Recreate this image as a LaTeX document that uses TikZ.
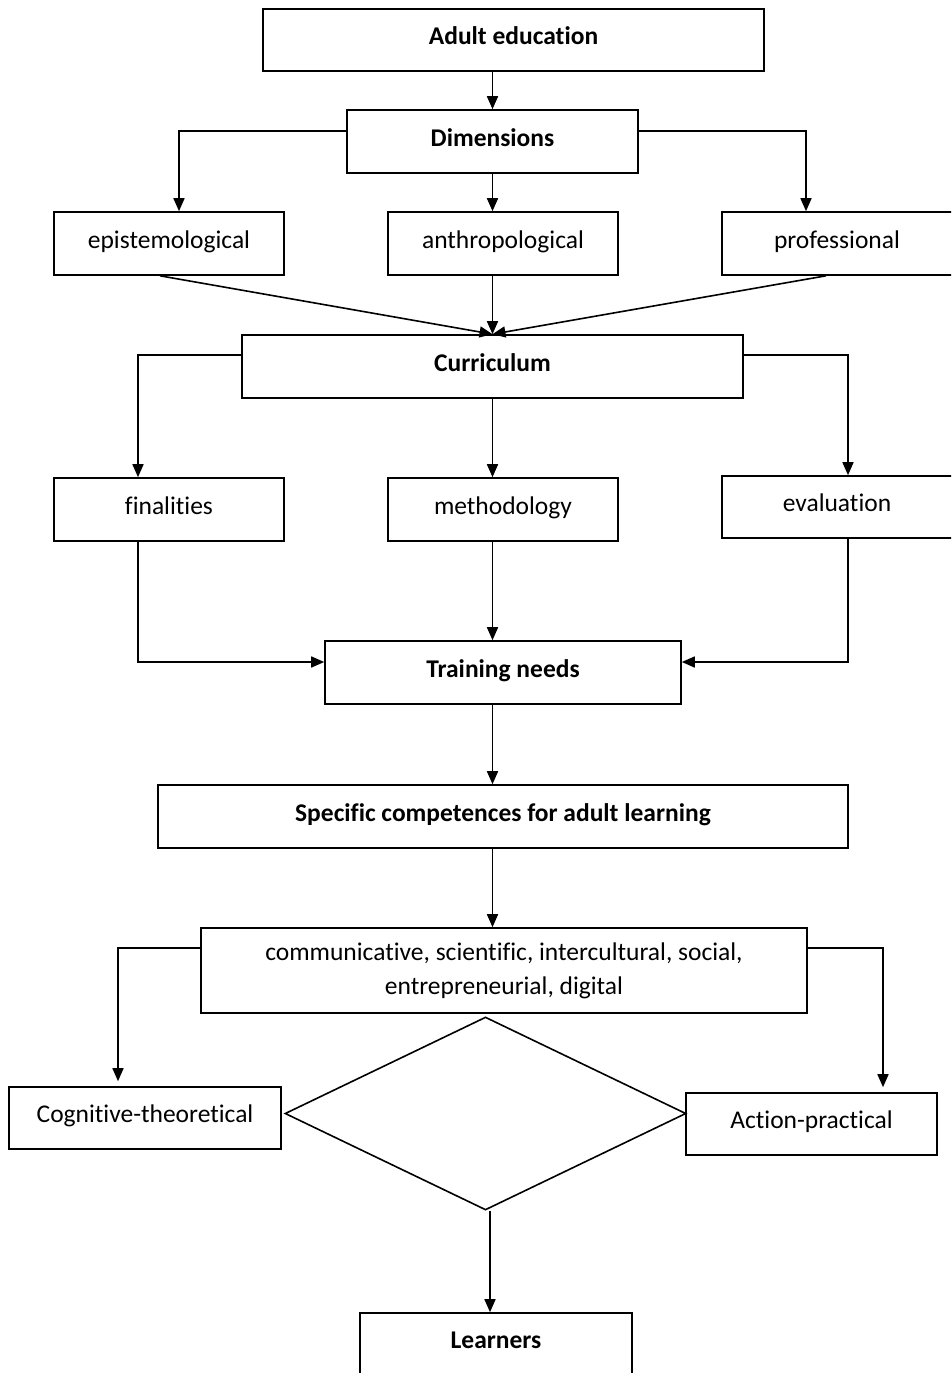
\documentclass[tikz,border=0pt]{standalone}
\usepackage{fontspec}
\setmainfont{Carlito}[Ligatures={NoCommon},RawFeature={-liga;-clig}]
\usetikzlibrary{arrows.meta,shapes.geometric,calc}
\tikzset{
  box/.style={draw, line width=1.6pt, minimum height=63pt, inner sep=0pt, align=center,
    font=\fontsize{25.5pt}{34pt}\selectfont},
  bbox/.style={box, font=\fontsize{25.5pt}{34pt}\selectfont\bfseries},
  conn/.style={line width=1.6pt},
  arr/.style={conn, -{Triangle[length=13pt,width=11pt]}},
}
\newcommand{\rt}[1]{\raisebox{8.5pt}{#1}}
\begin{document}
\begin{tikzpicture}[x=1pt,y=-1pt]
\useasboundingbox (0,0) rectangle (951,1373);
\clip (0,0) rectangle (951,1373);
\fill[white] (0,0) rectangle (951,1373);
% boxes
\node[bbox, minimum width=501pt, minimum height=62pt] (ae) at (513.5,40) {\rt{Adult education}};
\node[bbox, minimum width=291pt] (dim) at (492.5,141.5) {\rt{Dimensions}};
\node[box, minimum width=230pt] (epi) at (169,243.5) {\rt{epistemological}};
\node[box, minimum width=230pt] (ant) at (503,243.5) {\rt{anthropological}};
\node[box, minimum width=240pt] (pro) at (842,243.5) {\rt{\hspace*{-10pt}professional}};
\node[bbox, minimum width=501pt] (cur) at (492.5,366.5) {\rt{Curriculum}};
\node[box, minimum width=230pt] (fin) at (169,509.5) {\rt{finalities}};
\node[box, minimum width=230pt] (met) at (503,509.5) {\rt{methodology}};
\node[box, minimum width=240pt, minimum height=62pt] (eva) at (842,507) {\rt{\hspace*{-10pt}evaluation}};
\node[bbox, minimum width=356pt] (tn) at (503,672.5) {\rt{Training needs}};
\node[bbox, minimum width=690pt] (sc) at (503,816.5) {\rt{Specific competences for adult learning}};
\node[box, minimum width=606pt, minimum height=85pt] (com) at (504,970.5) {\raisebox{3pt}{\begin{tabular}{@{}c@{}}communicative, scientific, intercultural, social,\\[-0.5pt]entrepreneurial, digital\end{tabular}}};
\node[box, minimum width=272pt, minimum height=62pt] (cog) at (145,1118) {\rt{Cognitive-theoretical}};
\node[box, minimum width=251pt, minimum height=62pt] (act) at (811.5,1124) {\rt{Action-practical}};
\node[draw, line width=1.6pt, diamond, minimum width=401pt, minimum height=193pt, inner sep=0pt] (dia) at (485.5,1113.5) {};
\node[bbox, minimum width=272pt] (lea) at (496,1344.5) {\rt{Learners}};
% connectors
\draw[arr] (dim.north |- ae.south) -- (dim.north);
\draw[arr] ([yshift=10.5pt]dim.west) -| ([xshift=10pt]epi.north);
\draw[arr] ([yshift=10.5pt]dim.east) -| ([xshift=-36pt]pro.north);
\draw[arr] (dim.south) -- (dim.south |- ant.north);
\draw[arr] ([xshift=-9pt]epi.south) -- (cur.north);
\draw[arr] (cur.north |- ant.south) -- (cur.north);
\draw[arr] ([xshift=-16pt]pro.south) -- (cur.north);
\draw[arr] ([yshift=11.5pt]cur.west) -| ([xshift=-31pt]fin.north);
\draw[arr] ([yshift=11.5pt]cur.east) -| ([xshift=6pt]eva.north);
\draw[arr] (cur.south) -- (cur.south |- met.north);
\draw[arr] ([xshift=-31pt]fin.south) |- ([yshift=10.5pt]tn.west);
\draw[arr] (cur.south |- met.south) -- (cur.south |- tn.north);
\draw[arr] ([xshift=6pt]eva.south) |- ([yshift=10.5pt]tn.east);
\draw[arr] (cur.south |- tn.south) -- (cur.south |- sc.north);
\draw[arr] (cur.south |- sc.south) -- (cur.south |- com.north);
\draw[arr, shorten >=5pt] ([yshift=22.5pt]com.west) -| ([xshift=-27pt]cog.north);
\draw[arr, shorten >=5pt] ([yshift=22.5pt]com.east) -| ([xshift=71.5pt]act.north);
\draw[arr] ([xshift=4.5pt]dia.south) -- ([xshift=4.5pt]dia.south |- lea.north);
\end{tikzpicture}
\end{document}
